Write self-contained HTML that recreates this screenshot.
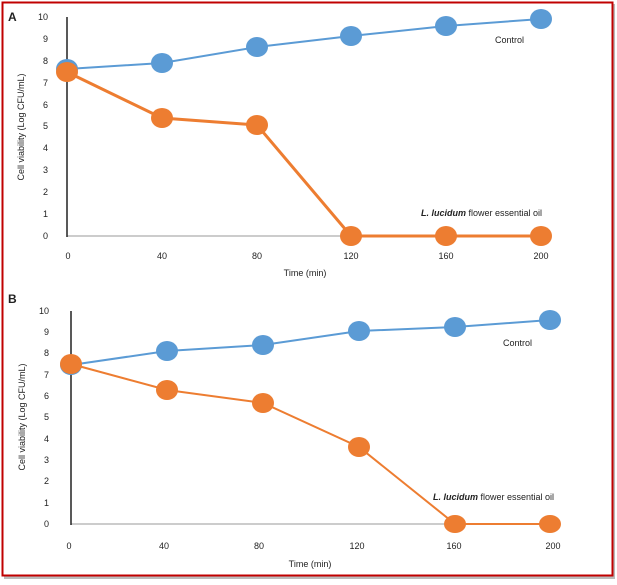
<!DOCTYPE html>
<html><head><style>
body{margin:0;background:#fff;}
svg text{font-family:"Liberation Sans",Arial,sans-serif;fill:#222;}
</style></head><body>
<svg width="617" height="580" xmlns="http://www.w3.org/2000/svg">
<rect x="0" y="0" width="617" height="580" fill="#fff"/>
<rect x="4" y="4" width="611" height="575" fill="#bbb"/>
<rect x="2.5" y="2.5" width="610" height="573" fill="#fff" stroke="#c00000" stroke-width="2"/>
<!-- Panel A -->
<text x="8" y="21" font-size="12" font-weight="bold">A</text>
<g font-size="9" text-anchor="end">
<text x="48" y="20">10</text><text x="48" y="42">9</text><text x="48" y="64">8</text><text x="48" y="86">7</text><text x="48" y="108">6</text><text x="48" y="129">5</text><text x="48" y="151">4</text><text x="48" y="173">3</text><text x="48" y="195">2</text><text x="48" y="217">1</text><text x="48" y="239">0</text>
</g>
<text transform="translate(24,127) rotate(-90)" font-size="9" text-anchor="middle">Cell viability (Log CFU/mL)</text>
<line x1="67" y1="236" x2="545" y2="236" stroke="#bbb" stroke-width="1.5"/>
<line x1="67" y1="17" x2="67" y2="237" stroke="#222" stroke-width="1.5"/>
<g font-size="9" text-anchor="middle">
<text x="68" y="259">0</text><text x="162" y="259">40</text><text x="257" y="259">80</text><text x="351" y="259">120</text><text x="446" y="259">160</text><text x="541" y="259">200</text>
</g>
<text x="305" y="276" font-size="9" text-anchor="middle">Time (min)</text>
<polyline points="67,69 162,63 257,47 351,36 446,26 541,19" fill="none" stroke="#5b9bd5" stroke-width="2"/>
<g fill="#5b9bd5"><ellipse cx="67" cy="69" rx="11" ry="10"/><ellipse cx="162" cy="63" rx="11" ry="10"/><ellipse cx="257" cy="47" rx="11" ry="10"/><ellipse cx="351" cy="36" rx="11" ry="10"/><ellipse cx="446" cy="26" rx="11" ry="10"/><ellipse cx="541" cy="19" rx="11" ry="10"/></g>
<polyline points="67,72 162,118 257,125 351,236 446,236 541,236" fill="none" stroke="#ed7d31" stroke-width="3"/>
<g fill="#ed7d31"><ellipse cx="67" cy="72" rx="11" ry="10"/><ellipse cx="162" cy="118" rx="11" ry="10"/><ellipse cx="257" cy="125" rx="11" ry="10"/><ellipse cx="351" cy="236" rx="11" ry="10"/><ellipse cx="446" cy="236" rx="11" ry="10"/><ellipse cx="541" cy="236" rx="11" ry="10"/></g>
<text x="495" y="43" font-size="9">Control</text>
<text x="421" y="216" font-size="9"><tspan font-weight="bold" font-style="italic">L. lucidum</tspan> flower essential oil</text>
<!-- Panel B -->
<text x="8" y="303" font-size="12" font-weight="bold">B</text>
<g font-size="9" text-anchor="end">
<text x="49" y="314">10</text><text x="49" y="335">9</text><text x="49" y="356">8</text><text x="49" y="378">7</text><text x="49" y="399">6</text><text x="49" y="420">5</text><text x="49" y="442">4</text><text x="49" y="463">3</text><text x="49" y="484">2</text><text x="49" y="506">1</text><text x="49" y="527">0</text>
</g>
<text transform="translate(25,417) rotate(-90)" font-size="9" text-anchor="middle">Cell viability (Log CFU/mL)</text>
<line x1="71" y1="524" x2="557" y2="524" stroke="#bbb" stroke-width="1.5"/>
<line x1="71" y1="311" x2="71" y2="525" stroke="#222" stroke-width="1.5"/>
<g font-size="9" text-anchor="middle">
<text x="69" y="549">0</text><text x="164" y="549">40</text><text x="259" y="549">80</text><text x="357" y="549">120</text><text x="454" y="549">160</text><text x="553" y="549">200</text>
</g>
<text x="310" y="567" font-size="9" text-anchor="middle">Time (min)</text>
<polyline points="71,365 167,351 263,345 359,331 455,327 550,320" fill="none" stroke="#5b9bd5" stroke-width="2"/>
<g fill="#5b9bd5"><ellipse cx="71" cy="365" rx="11" ry="10"/><ellipse cx="167" cy="351" rx="11" ry="10"/><ellipse cx="263" cy="345" rx="11" ry="10"/><ellipse cx="359" cy="331" rx="11" ry="10"/><ellipse cx="455" cy="327" rx="11" ry="10"/><ellipse cx="550" cy="320" rx="11" ry="10"/></g>
<polyline points="71,364 167,390 263,403 359,447 455,524 550,524" fill="none" stroke="#ed7d31" stroke-width="2"/>
<g fill="#ed7d31"><ellipse cx="71" cy="364" rx="11" ry="10"/><ellipse cx="167" cy="390" rx="11" ry="10"/><ellipse cx="263" cy="403" rx="11" ry="10"/><ellipse cx="359" cy="447" rx="11" ry="10"/><ellipse cx="455" cy="524" rx="11" ry="9"/><ellipse cx="550" cy="524" rx="11" ry="9"/></g>
<text x="503" y="346" font-size="9">Control</text>
<text x="433" y="500" font-size="9"><tspan font-weight="bold" font-style="italic">L. lucidum</tspan> flower essential oil</text>
</svg>
</body></html>
